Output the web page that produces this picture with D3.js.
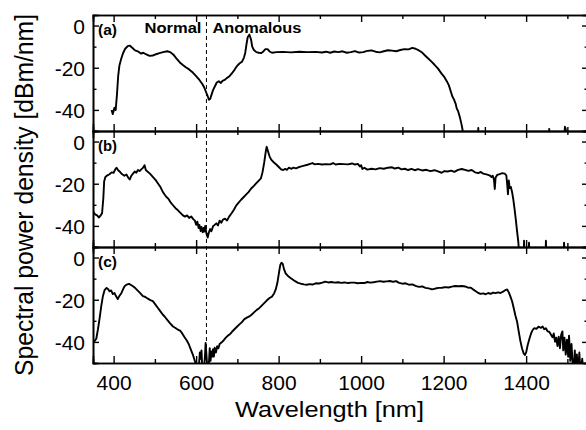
<!DOCTYPE html>
<html>
<head>
<meta charset="utf-8">
<script src="https://cdn.jsdelivr.net/npm/d3@7"></script>
<style>
  body { margin: 0; background: #fff; }
  svg text { font-family: "Liberation Sans", Arial, Helvetica, sans-serif !important; fill: #000; }
</style>
</head>
<body>
<svg id="chart" width="586" height="430"></svg>
<script>
/* -------------------------------------------------------------------------- */
// spectra: [wavelength nm, dBm/nm]
const specA = [
  [395,-40],[398,-42],[402,-39],[405,-40],[408,-33],[411,-24],[414,-19],[418,-16],[423,-13],[428,-11],
  [434,-9.8],[439,-9.5],[445,-10.5],[452,-11.8],[460,-12.4],[467,-13.3],[472,-12.9],[478,-13.6],[487,-14.4],
  [495,-14.2],[503,-13.6],[511,-13.1],[520,-12.6],[530,-12.2],[537,-12.6],[545,-13.8],[552,-15.6],[560,-17.4],
  [567,-18.6],[575,-19.8],[583,-20.8],[592,-22.3],[600,-24],[608,-25.8],[615,-27.7],[620,-29.5],[624,-31.5],
  [628,-33.5],[631,-35.2],[634,-34.8],[637,-33],[641,-30.6],[645,-29],[650,-27],[655,-26.4],[660,-27.2],
  [664,-26.2],[669,-25.8],[675,-24.8],[681,-24],[687,-22.6],[693,-21],[699,-19.2],[705,-18],[711,-17.2],
  [716,-15.2],[719,-13],[722,-9],[725,-5.6],[729,-4.3],[733,-6.5],[736,-10],[740,-11.6],[746,-12.6],
  [752,-12.9],[758,-13],[763,-12.3],[768,-11.2],[773,-11.2],[778,-12.3],[784,-12.9],[795,-12.6],[810,-12.5],
  [830,-12.7],[850,-12.4],[870,-12.6],[890,-12.5],[905,-12.8],[915,-12.4],[925,-12.9],[935,-12.3],[945,-12.6],
  [955,-12.2],[965,-12.9],[975,-12.6],[985,-12.1],[995,-12.8],[1005,-12.6],[1015,-12.0],[1025,-11.8],
  [1035,-12.4],[1045,-12.7],[1055,-12.2],[1065,-11.7],[1075,-11.9],[1085,-12.2],[1095,-11.6],[1105,-11.2],
  [1115,-11.3],[1124,-10.6],[1132,-11],[1140,-11.8],[1148,-12.8],[1155,-14.2],[1162,-15.5],[1170,-17],
  [1178,-18.6],[1186,-20.3],[1195,-22.8],[1202,-24.5],[1208,-26.5],[1213,-28.5],[1217,-31],[1221,-33.5],
  [1225,-35],[1229,-37],[1232,-39.5],[1235,-40.5],[1238,-42.5],[1240,-44],[1243,-46.5],[1246,-49.5],
  [1249,-55],[1283,-55],[1284,-48.5],[1285,-55],[1455,-55],[1456,-49],[1457,-55],[1492,-55],[1494,-48],
  [1496,-49],[1498,-55],[1550,-55]
];
const specB = [
  [350,-33],[355,-34.5],[360,-35],[364,-36],[368,-35.2],[372,-34],[375,-27],[377,-19],[380,-16.8],[385,-16],
  [390,-15.5],[395,-14.6],[400,-14.8],[404,-13.2],[407,-12.4],[411,-13.6],[415,-14.3],[420,-15.4],[426,-16.2],
  [431,-15.6],[435,-17],[439,-18],[443,-16.2],[447,-15.2],[451,-14.2],[455,-14.8],[459,-13.5],[463,-14],
  [467,-13.2],[471,-12.5],[475,-11.2],[478,-13.5],[482,-14.2],[488,-15.2],[495,-16.7],[502,-18.3],[508,-20],
  [513,-21.4],[518,-23.4],[523,-25],[528,-26.3],[533,-27.2],[538,-28.8],[544,-30.2],[550,-31.6],[556,-32.6],
  [562,-33.8],[568,-35],[573,-35.6],[578,-35],[583,-36.2],[588,-35.5],[593,-36.8],[597,-37.5],[600,-39.5],
  [603,-38],[606,-41],[608,-39.5],[611,-42.5],[613,-40.5],[616,-43],[618,-41],[620,-42.7],[622,-40],
  [625,-43.5],[628,-45.5],[631,-43],[634,-41.5],[637,-42.5],[641,-40.2],[645,-39.5],[649,-38.8],[653,-39.8],
  [657,-37.5],[661,-38.5],[665,-37],[670,-36.6],[675,-37.4],[680,-35.6],[686,-34],[692,-32.2],[697,-30.4],
  [703,-29],[709,-27.6],[715,-26.4],[721,-25.2],[727,-24],[733,-22.4],[740,-21],[746,-19.7],[752,-18.5],
  [757,-17.5],[761,-14.5],[765,-10],[769,-4.5],[771,-2.5],[774,-4.5],[778,-7],[782,-8.6],[788,-9.8],
  [795,-11],[801,-12.2],[806,-13.2],[811,-13.5],[816,-13],[820,-13.4],[825,-12.4],[830,-12.9],[836,-12.4],
  [842,-12.7],[848,-12.2],[855,-11.8],[862,-11.4],[870,-11],[878,-10.5],[882,-10.2],[888,-10.8],[895,-10.6],
  [905,-10.9],[915,-10.7],[925,-10.8],[932,-10.2],[938,-10.9],[948,-10.6],[958,-10.7],[968,-10.8],
  [978,-10.4],[985,-10.9],[992,-10.6],[997,-11.8],[1000,-11.2],[1003,-13],[1008,-12.4],[1015,-13.3],
  [1025,-12.9],[1035,-13.2],[1045,-12.6],[1055,-12.9],[1065,-12.4],[1075,-12.2],[1082,-12.8],[1090,-12.4],
  [1098,-13.2],[1106,-12.9],[1114,-13.5],[1122,-13],[1130,-13.6],[1138,-13.1],[1148,-13.7],[1158,-13.4],
  [1168,-14],[1178,-13.6],[1188,-14.3],[1195,-14.8],[1202,-14],[1210,-14.2],[1218,-13.8],[1226,-14.4],
  [1235,-13.4],[1244,-13],[1252,-13.4],[1260,-13.9],[1268,-13.5],[1276,-14.6],[1284,-15],[1290,-14.4],
  [1296,-15.2],[1304,-15.6],[1311,-16],[1316,-16.8],[1319,-16.2],[1322,-18],[1324,-22.5],[1326,-17],
  [1330,-15.8],[1336,-15.4],[1342,-15],[1348,-15.2],[1352,-16],[1354,-20],[1356,-25],[1358,-18.5],
  [1360,-22],[1363,-21.5],[1366,-24],[1369,-27.5],[1372,-32],[1375,-37],[1378,-42.5],[1381,-47.5],
  [1384,-55],[1394,-55],[1395,-47],[1396,-55],[1406,-55],[1407,-48],[1408,-55],[1447,-55],[1448,-47],
  [1449,-55],[1491,-55],[1492,-48],[1493,-55],[1550,-55]
];
const specC = [
  [350,-40.5],[354,-39.5],[358,-38.5],[362,-34],[366,-28.8],[370,-23],[374,-18.3],[378,-15.5],[383,-14.4],
  [387,-15],[390,-16],[394,-15.6],[398,-17.3],[402,-16.8],[406,-18.4],[410,-19.7],[414,-18.2],[419,-16.8],
  [423,-15],[427,-13.5],[432,-12.8],[437,-12.5],[442,-13],[447,-13.6],[453,-14.6],[459,-15.8],[465,-17],
  [471,-18.3],[477,-18.7],[483,-19.5],[489,-20.2],[495,-20.7],[501,-22.2],[507,-23.8],[513,-25.4],[519,-27],
  [525,-28.3],[531,-29.8],[537,-31.2],[544,-32.7],[550,-33.4],[556,-34.2],[562,-34.8],[567,-36.2],[572,-37.8],
  [577,-39.2],[582,-41],[587,-43.5],[592,-46],[596,-48.5],[600,-51],[604,-55],[607,-51],[609,-45],[611,-48],
  [613,-44],[615,-53],[618,-55],[621,-48],[623,-40.5],[625,-46],[628,-55],[631,-50],[633,-43],[635,-49],
  [637,-44.5],[639,-47],[641,-43.5],[643,-47],[645,-42.8],[648,-45],[651,-42],[654,-43],[657,-41],
  [662,-40.2],[667,-39.2],[672,-38],[677,-37],[681,-36.5],[687,-35.2],[693,-34],[699,-32.8],[705,-31.7],
  [711,-30.6],[717,-29.2],[723,-28.5],[729,-27.9],[735,-27],[741,-25.9],[747,-24.8],[753,-24],[759,-22.8],
  [765,-21.6],[771,-20.4],[778,-19.2],[784,-18.5],[789,-17],[793,-15.1],[797,-12],[801,-7],[804,-3.5],
  [807,-2.5],[810,-3],[813,-5.5],[817,-7.5],[822,-8.6],[828,-9.6],[834,-10.4],[840,-11.2],[847,-12],
  [854,-12.4],[861,-12.7],[868,-12.9],[875,-12.6],[882,-12.8],[890,-12.2],[898,-12.3],[906,-11.9],
  [913,-11.4],[920,-11.8],[928,-11.6],[936,-11.9],[944,-11.7],[952,-12],[960,-11.8],[968,-12.1],[976,-11.9],
  [984,-11.9],[992,-12.2],[1000,-12],[1008,-12.1],[1015,-11.6],[1022,-11.9],[1030,-11.7],[1038,-11.4],
  [1046,-11.2],[1054,-11.5],[1062,-11.3],[1070,-11.1],[1078,-11.5],[1085,-11.2],[1092,-12],[1100,-12.4],
  [1108,-12.2],[1116,-12.9],[1124,-12.7],[1132,-13.4],[1140,-13.9],[1148,-13.7],[1156,-14.4],[1164,-14.6],
  [1172,-15.1],[1180,-14.7],[1188,-14.4],[1196,-14.3],[1204,-14],[1212,-14.2],[1220,-13.8],[1228,-13.5],
  [1236,-13.6],[1245,-13.5],[1252,-13.7],[1258,-14.2],[1266,-14.3],[1272,-15.2],[1278,-16],[1284,-16.8],
  [1290,-17.2],[1296,-17],[1302,-17.4],[1308,-16.8],[1314,-17.2],[1320,-16.6],[1326,-16.9],[1332,-16.5],
  [1338,-16.8],[1344,-16.2],[1350,-15.4],[1354,-15.1],[1358,-16.5],[1362,-18.5],[1366,-20.7],[1370,-24],
  [1374,-27.5],[1378,-30.3],[1382,-35],[1386,-39.5],[1390,-43],[1394,-45.5],[1397,-46.2],[1400,-45],
  [1404,-41.3],[1408,-38.5],[1412,-36],[1416,-34.3],[1420,-33.5],[1425,-33.8],[1430,-32.8],[1436,-33.3],
  [1440,-32.7],[1444,-34],[1448,-33.5],[1452,-35],[1456,-35.2],[1460,-36.5],[1464,-37.8],[1467,-36],
  [1470,-39.9],[1473,-38],[1476,-42],[1479,-37.5],[1482,-43],[1485,-36.5],[1488,-35],[1490,-44],[1493,-38],
  [1496,-46],[1499,-39],[1502,-47],[1504,-37],[1507,-49],[1510,-41],[1512,-48],[1515,-55],[1518,-44],
  [1520,-55],[1523,-46],[1526,-55],[1529,-45],[1532,-55],[1536,-48],[1539,-55],[1550,-55]
];

const panelLabels = ['(a)', '(b)', '(c)'];
const spectra = [specA, specB, specC];
const xMajor = [400, 600, 800, 1000, 1200, 1400];
const xMinor = [500, 700, 900, 1100, 1300, 1500];
const yMajor = [0, -20, -40];
const yMinor = [-10, -30, -50];
const zdwLambda = 625;   // zero-dispersion wavelength (dashed line)
const regimeLabels = ['Normal', 'Anomalous'];

/* -------------------------------------------------------------------------- */
const FONT = '"Liberation Sans", Arial, Helvetica, sans-serif';
const svg = d3.select('#chart').attr('font-family', FONT);
const left = 93, right = 588, top0 = 15, panelH = 116;

const x = d3.scaleLinear().domain([350, 1550]).range([left, right]);

const defs = svg.append('defs');
const line = d3.line();

spectra.forEach(function(spec, i) {
  let y0 = top0 + i * panelH;
  let y = d3.scaleLinear().domain([-50, 5]).range([y0 + panelH, y0]);
  let g = svg.append('g');

  // ---------------------------------------------------
  let clipId = 'clip' + i;
  defs.append('clipPath').attr('id', clipId)
    .append('rect').attr('x', left).attr('y', y0).attr('width', right - left).attr('height', panelH);

  g.append('path')
    .attr('clip-path', 'url(#' + clipId + ')')
    .attr('d', line(spec.map(d => [x(d[0]), y(d[1])])))
    .attr('fill', 'none').attr('stroke', '#000')
    .attr('stroke-width', 1.9).attr('stroke-linejoin', 'round');

  // axes: all ticks point inward
  [[xMajor, -7], [xMinor, -4]].forEach(function(t) {
    g.append('g').attr('transform', `translate(0,${y0 + panelH})`)
      .call(d3.axisBottom(x).tickValues(t[0]).tickSize(t[1]).tickFormat(''));
    g.append('g').attr('transform', `translate(0,${y0})`)
      .call(d3.axisTop(x).tickValues(t[0]).tickSize(t[1]).tickFormat(''));
  });

  let yl = g.append('g').attr('transform', `translate(${left},0)`)
    .call(d3.axisLeft(y).tickValues(yMajor).tickSize(-6).tickPadding(8).tickFormat(d => String(d)));
  g.append('g').attr('transform', `translate(${left},0)`)
    .call(d3.axisLeft(y).tickValues(yMinor).tickSize(-3.5).tickFormat(''));
  g.append('g').attr('transform', `translate(${right},0)`)
    .call(d3.axisRight(y).tickValues(yMajor).tickSize(-6).tickFormat(''));
  g.append('g').attr('transform', `translate(${right},0)`)
    .call(d3.axisRight(y).tickValues(yMinor).tickSize(-3.5).tickFormat(''));

  yl.selectAll('text').attr('font-size', 21).attr('dy', '0.36em');

  g.append('text').attr('x', 98).attr('y', y0 + 20)
    .attr('font-size', 14).attr('font-weight', 'bold')
    .attr('textLength', 19).attr('lengthAdjust', 'spacingAndGlyphs')
    .text(panelLabels[i]);
});

svg.selectAll('.domain').attr('stroke-width', 1.6);
svg.selectAll('.tick line').attr('stroke-width', 1.4);

// bottom tick labels
let xl = svg.append('g').attr('transform', `translate(0,${top0 + 3 * panelH})`)
  .call(d3.axisBottom(x).tickValues(xMajor).tickSize(0).tickPadding(12).tickFormat(d => String(d)));
xl.select('.domain').remove();
xl.selectAll('text').attr('font-size', 21);

svg.selectAll('g').attr('font-family', FONT);

/* -------------------------------------------------------------------------- */
// zero-dispersion marker
svg.append('line')
  .attr('x1', x(zdwLambda)).attr('x2', x(zdwLambda))
  .attr('y1', top0).attr('y2', top0 + 3 * panelH)
  .attr('stroke', '#000').attr('stroke-width', 1).attr('stroke-dasharray', '4,3');

svg.append('text').attr('x', x(zdwLambda) - 5).attr('y', 33)
  .attr('text-anchor', 'end').attr('font-size', 14).attr('font-weight', 'bold')
  .attr('textLength', 57).attr('lengthAdjust', 'spacingAndGlyphs')
  .text(regimeLabels[0]);
svg.append('text').attr('x', x(zdwLambda) + 6).attr('y', 33)
  .attr('font-size', 14).attr('font-weight', 'bold')
  .attr('textLength', 89).attr('lengthAdjust', 'spacingAndGlyphs')
  .text(regimeLabels[1]);

// axis titles
svg.append('text').attr('x', 329.5).attr('y', 417)
  .attr('text-anchor', 'middle').attr('font-size', 22)
  .attr('textLength', 189).attr('lengthAdjust', 'spacingAndGlyphs')
  .text('Wavelength [nm]');

svg.append('text').attr('transform', 'translate(32.5,195) rotate(-90)')
  .attr('text-anchor', 'middle').attr('font-size', 25)
  .attr('textLength', 362).attr('lengthAdjust', 'spacingAndGlyphs')
  .text('Spectral power density [dBm/nm]');
</script>
</body>
</html>
